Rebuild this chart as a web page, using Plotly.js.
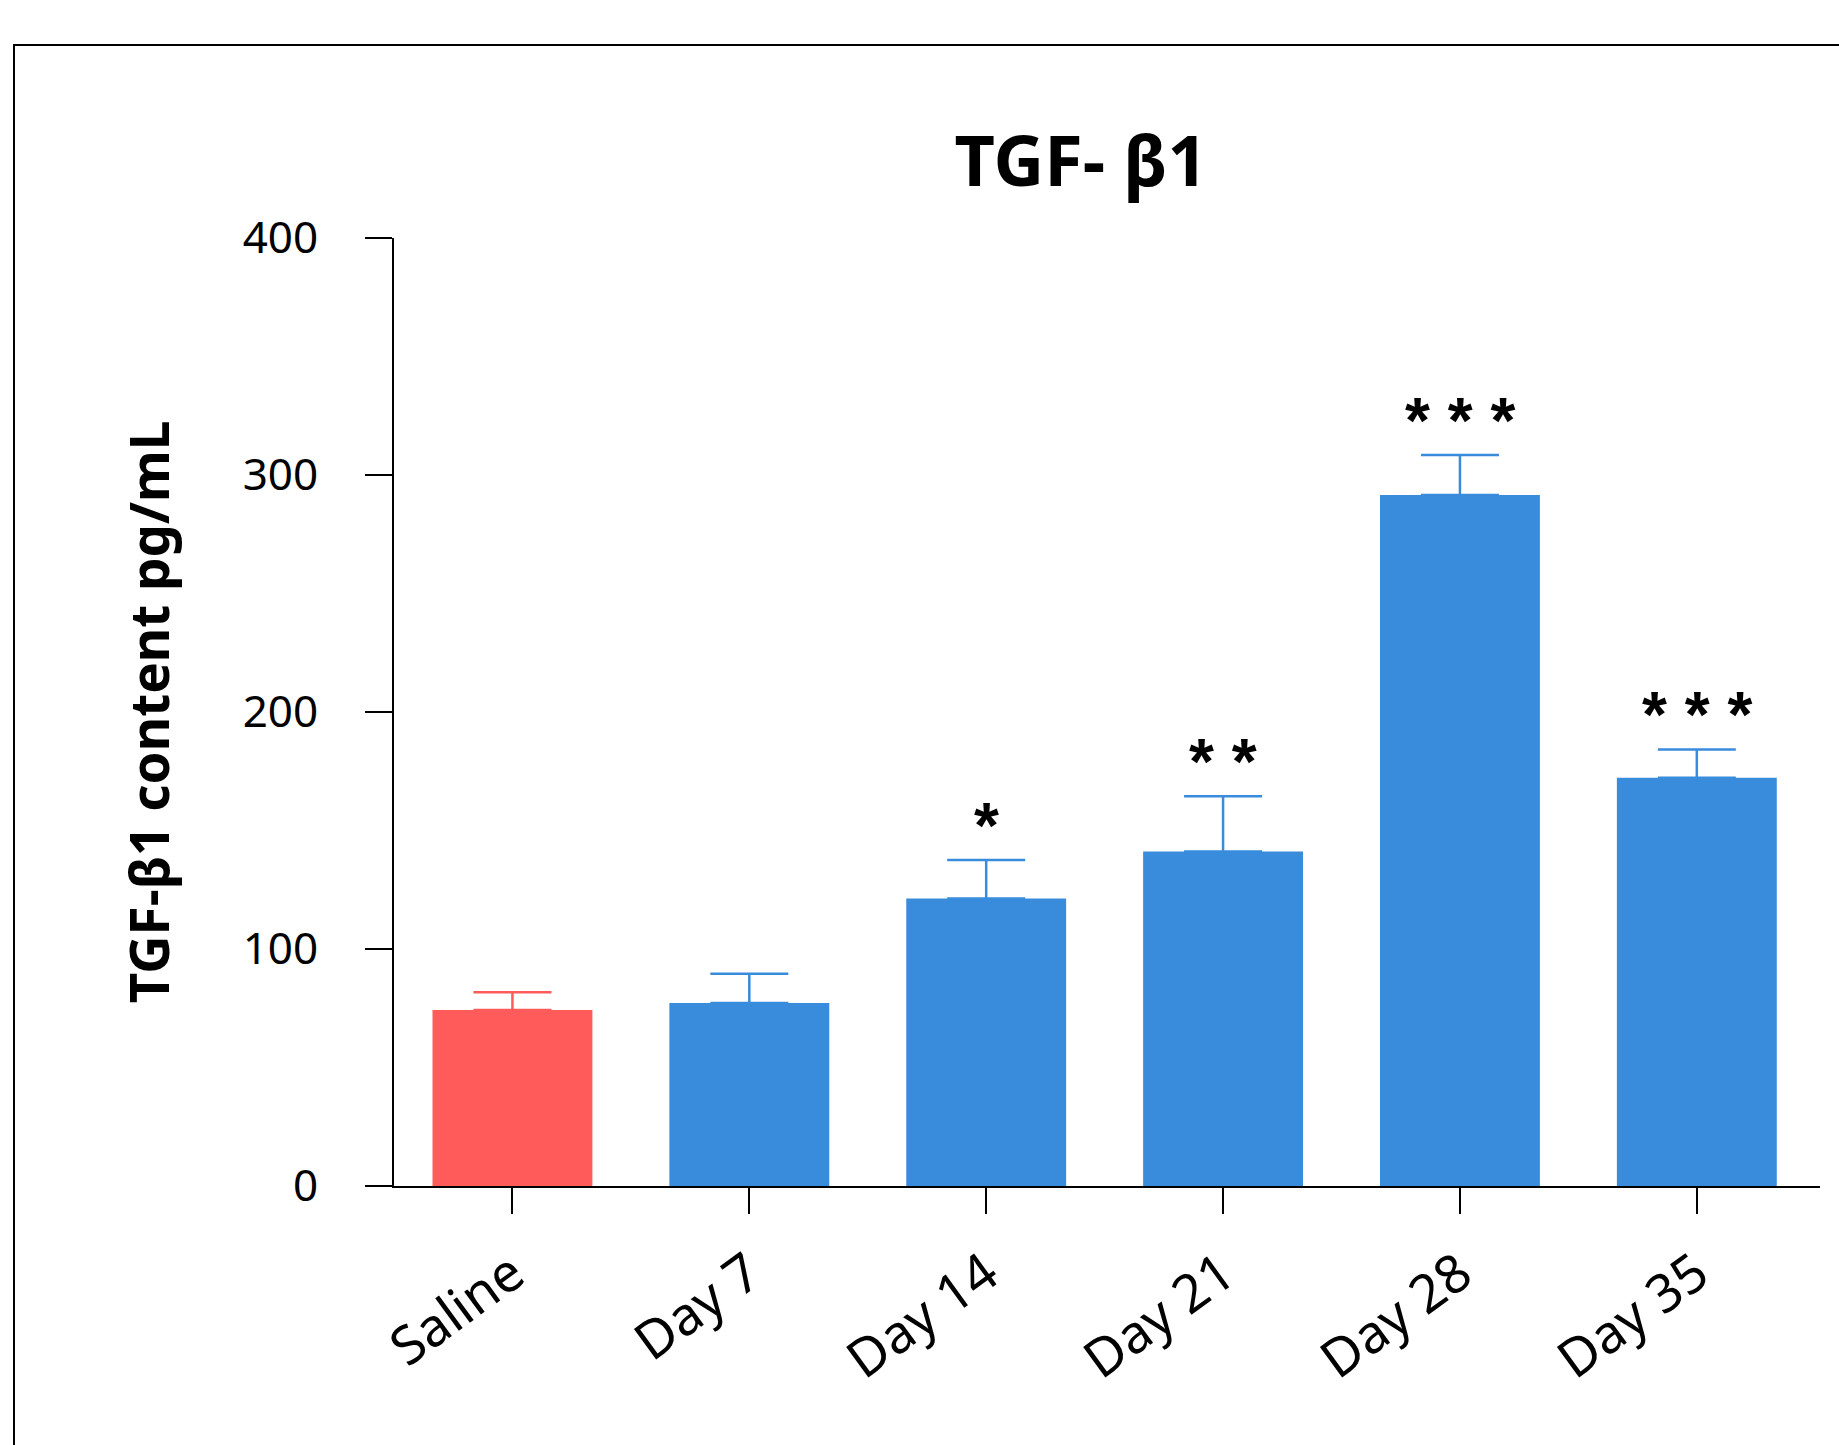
<!DOCTYPE html>
<html>
<head>
<meta charset="utf-8">
<script src="https://cdn.plot.ly/plotly-3.0.1.min.js"></script>
<style>
html,body{margin:0;padding:0;overflow:hidden;background:#fff;}
#chart{width:1839px;height:1445px;}
#frame{position:absolute;left:13px;top:44px;width:3000px;height:3000px;border-top:2px solid #000;border-left:2px solid #000;pointer-events:none;}
</style>
</head>
<body>
<div id="chart"></div>
<div id="frame"></div>
<script>
const categories = ['Saline', 'Day 7', 'Day 14', 'Day 21', 'Day 28', 'Day 35'];
const means = [74.3, 77.2, 121.3, 141.1, 291.6, 172.3];
const sem = [7.4, 12.4, 16.3, 23.3, 16.8, 11.9];
const significance = ['', '', '*', '**', '***', '***'];
const yTicks = [0, 100, 200, 300, 400];

const red = '#FF5B5B';
const blue = '#398CDC';

const ctrl = {
  type: 'bar',
  x: categories.slice(0, 1),
  y: means.slice(0, 1),
  width: 0.675,
  marker: {color: red},
  error_y: {type: 'data', symmetric: false, array: sem.slice(0, 1), arrayminus: [0], color: red, thickness: 2.5, width: 39},
  hoverinfo: 'x+y'
};
const treated = {
  type: 'bar',
  x: categories.slice(1),
  y: means.slice(1),
  width: 0.675,
  marker: {color: blue},
  error_y: {type: 'data', symmetric: false, array: sem.slice(1), arrayminus: sem.slice(1).map(() => 0), color: blue, thickness: 2.5, width: 39},
  hoverinfo: 'x+y'
};

const annotations = categories.map((c, i) => ({
  x: c, y: means[i] + sem[i], xref: 'x', yref: 'y',
  text: '<b>' + significance[i].split('').join(' ') + '</b>',
  showarrow: false, xanchor: 'center', yanchor: 'middle', yshift: 34,
  font: {family: 'Liberation Sans, Arial', size: 64, color: '#000'}
})).filter((a, i) => significance[i] !== '');

const layout = {
  width: 1839, height: 1445,
  paper_bgcolor: '#fff', plot_bgcolor: '#fff',
  margin: {l: 394, r: 19, t: 238, b: 259},
  showlegend: false,
  barmode: 'overlay',
  title: {
    text: '<b>TGF- β1</b>',
    x: 1081 / 1839, xref: 'container', xanchor: 'center',
    y: 1 - 161 / 1445, yref: 'container', yanchor: 'middle',
    font: {family: 'Noto Sans', size: 70, color: '#000'}
  },
  font: {family: 'Noto Sans', color: '#000'},
  xaxis: {
    type: 'category',
    categoryorder: 'array', categoryarray: categories,
    range: [-0.5, 5.52],
    showline: true, linecolor: '#000', linewidth: 2,
    ticks: 'outside', ticklen: 26, tickwidth: 2, tickcolor: '#000',
    tickangle: -36,
    tickfont: {family: 'Noto Sans', size: 53, color: '#000'},
    ticklabelstandoff: 8,
    showgrid: false, zeroline: false, automargin: false
  },
  yaxis: {
    range: [0, 400],
    tickvals: yTicks, ticktext: yTicks.map(String),
    showline: true, linecolor: '#000', linewidth: 2,
    ticks: 'outside', ticklen: 27, tickwidth: 2, tickcolor: '#000',
    tickfont: {family: 'Noto Sans', size: 44, color: '#000'},
    ticklabelstandoff: 38,
    showgrid: false, zeroline: false, automargin: false,
    title: {
      text: '<b>TGF-β1 content pg/mL</b>',
      font: {family: 'Noto Sans', size: 53, color: '#000'},
      standoff: 56
    }
  },
  annotations: annotations
};

Plotly.newPlot('chart', [ctrl, treated], layout, {displayModeBar: false, staticPlot: true});
</script>
</body>
</html>
